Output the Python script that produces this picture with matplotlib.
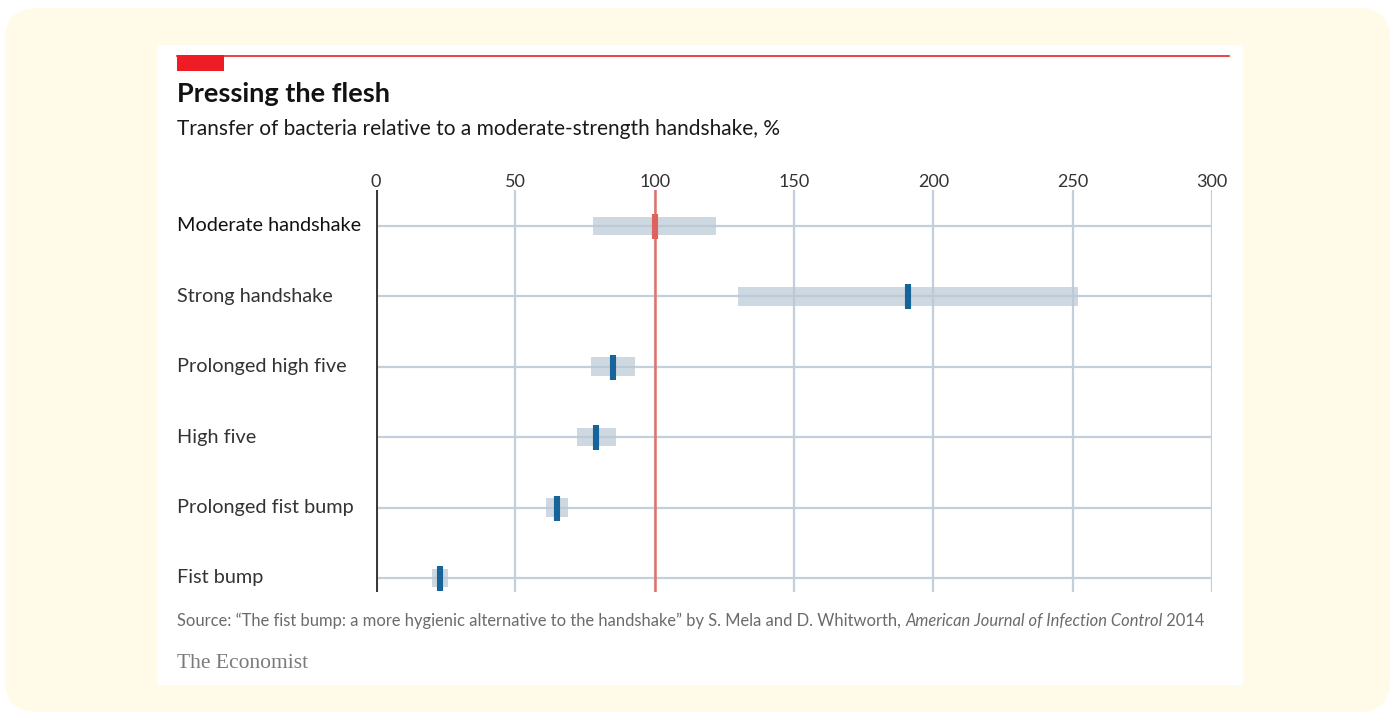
import numpy as np
import matplotlib.pyplot as plt
from matplotlib.patches import FancyBboxPatch, Rectangle
from matplotlib.lines import Line2D
import matplotlib.transforms as mtrans

# data (% relative to moderate handshake)
labels = ['Moderate handshake', 'Strong handshake', 'Prolonged high five',
          'High five', 'Prolonged fist bump', 'Fist bump']
lows = [78, 130, 77, 72, 61, 20]
highs = [122, 252, 93, 86, 69, 26]
mids = [100, 191, 85, 79, 65, 23]
xticks = [0, 50, 100, 150, 200, 250, 300]

plt.rcParams['font.family'] = ['Lato', 'DejaVu Sans']

W, H = 1393, 715
fig = plt.figure(figsize=(W/100, H/100), dpi=100, facecolor='white')

def px(x0, y0, x1, y1):  # pixel box -> figure fraction (left, bottom, w, h)
    return x0/W, 1 - y1/H, (x1-x0)/W, (y1-y0)/H

# cream card with rounded corners, white panel on top
fig.patches.append(FancyBboxPatch((5/100, (H-712)/100), 1385/100, 704/100,
                                  boxstyle='round,pad=0,rounding_size=0.32',
                                  transform=fig.dpi_scale_trans, fc='#fffbe8', ec='none', zorder=0))
l, b, w, h = px(157, 45, 1243, 685)
fig.patches.append(Rectangle((l, b), w, h, transform=fig.transFigure, fc='white', ec='none', zorder=1))

# economist red rule + tag
fig.add_artist(Line2D([177/W, 1229/W], [1-56/H, 1-56/H], color='#e8202a', lw=1.2, zorder=2))
l, b, w, h = px(177, 55, 224, 71)
fig.patches.append(Rectangle((l, b), w, h, transform=fig.transFigure, fc='#ee1c25', ec='none', zorder=2))

fig.text(177/W, 1-94/H, 'Pressing the flesh', fontsize=19.5, fontweight='bold', color='#121212',
         va='center', ha='left', zorder=3)
fig.text(177/W, 1-129/H, 'Transfer of bacteria relative to a moderate-strength handshake, %',
         fontsize=15, color='#1a1a1a', va='center', ha='left', zorder=3)

ax = fig.add_axes(px(376, 190, 1212, 592))
ax.set_zorder(3)
ax.patch.set_alpha(0)
n = len(labels)
y = np.arange(n)

for t in xticks[1:]:
    ax.axvline(t, color='#c3cfda', lw=1.6, zorder=1)
for yi in y:
    ax.axhline(yi, color='#c3cfda', lw=1.6, zorder=1)

ax.barh(y, np.array(highs) - np.array(lows), left=lows, height=0.265,
        color='#b9c8d5', alpha=0.7, zorder=2)
ax.axvline(100, color='#e2726b', lw=1.8, zorder=3)
ax.axvline(0, color='#3a3a3a', lw=2.2, zorder=4)

mcols = ['#e0625c'] + ['#17649b'] * (n - 1)
for xi, yi, c in zip(mids, y, mcols):
    ax.plot([xi], [yi], ls='none', marker='|', ms=18, mew=4.4, color=c, zorder=5)

ax.set_xlim(0, 300)
ax.set_ylim(5.2, -0.51)
ax.set_xticks(xticks)
ax.xaxis.tick_top()
ax.tick_params(axis='x', length=0, pad=0, labelsize=13, labelcolor='#333333')
ax.set_yticks([])
for s in ax.spines.values():
    s.set_visible(False)

tr = mtrans.blended_transform_factory(fig.transFigure, ax.transData)
for i, lab in enumerate(labels):
    ax.text(177/W, i, lab, transform=tr, ha='left', va='center', fontsize=14.3,
            color='#111111' if i == 0 else '#333333', clip_on=False)

# source line with italic journal name
parts = [('Source: \u201cThe fist bump: a more hygienic alternative to the handshake\u201d by S. Mela and D. Whitworth, ', 'normal'),
         ('American Journal of Infection Control', 'italic'),
         (' 2014', 'normal')]
r = fig.canvas.get_renderer()
x = 177
for txt, st in parts:
    t = fig.text(x/W, 1-621/H, txt, fontsize=11.9, style=st, color='#6b6b6b', va='center', ha='left', zorder=3)
    x += t.get_window_extent(renderer=r).width

fig.text(177/W, 1-664/H, 'The Economist', fontsize=15.5, family='Liberation Serif', color='#7a7a7a',
         va='center', ha='left', zorder=3)

fig.savefig('out.png', dpi=100, facecolor='white')
